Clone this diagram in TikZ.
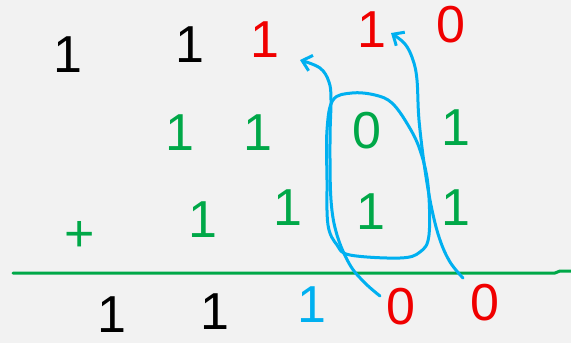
\documentclass[tikz,border=0pt]{standalone}
\usepackage{fontspec}
\setmainfont{Liberation Sans}
\usetikzlibrary{arrows.meta}
\definecolor{bg}{RGB}{242,242,242}
\definecolor{pgreen}{RGB}{0,168,72}
\definecolor{pblue}{RGB}{0,176,240}
\definecolor{pred}{RGB}{240,0,0}
\tikzset{
  dig/.style={inner sep=0pt, font=\fontsize{52}{52}\selectfont},
  blk/.style={dig, text=black},
  grn/.style={dig, text=pgreen},
  rd/.style={dig, text=pred},
  blu/.style={dig, text=pblue},
  pen/.style={line width=3pt, line cap=round, line join=round},
  bluepen/.style={pen, draw=pblue},
  tip/.style={-{Straight Barb[length=9pt,width=16pt,line width=3pt]}}
}
\begin{document}
\begin{tikzpicture}[x=1pt,y=-1pt]
\fill[bg] (0,0) rectangle (571,343);
\useasboundingbox (0,0) rectangle (571,343);
% row 1
\node[blk] (a1) at (68,55) {1};
\node[blk] (a2) at (190,45) {1};
\node[rd]  (a3) at (265,40) {1};
\node[rd]  (a4) at (372,30) {1};
\node[rd]  (a5) at (451,25) {0};
% row 2
\node[grn] (b2) at (180,133) {1};
\node[grn] (b3) at (258,133) {1};
\node[grn] (b4) at (367,131) {0};
\node[grn] (b5) at (456,128) {1};
% row 3
\node[grn] (c1) at (80,236) {+};
\node[grn] (c2) at (203,220) {1};
\node[grn] (c3) at (288,208) {1};
\node[grn] (c4) at (371,212) {1};
\node[grn] (c5) at (456,208) {1};
% sum line
\coordinate (l0) at (13,273);
\coordinate (l1) at (555,273);
\coordinate (l2) at (560,271);
\coordinate (l3) at (571,271);
\draw[pen, draw=pgreen] (l0) -- (l1) -- (l2) -- (l3);
% result
\node[blk] (r1) at (112,315) {1};
\node[blk] (r2) at (215,312) {1};
\node[blu] (r3) at (312,305) {1};
\node[rd]  (r4) at (401,307) {0};
\node[rd]  (r5) at (485,303) {0};
% loop around column
\draw[bluepen] plot[smooth cycle, tension=0.6] coordinates {(333,100) (352,93) (375,95) (392,103) (408,125) (420,150) (428,185) (429,235) (420,252) (400,258) (350,255) (337,245) (328,225) (327,180) (327,130)};
% carry arrows
\coordinate (s1) at (380,296);
\coordinate (s2) at (463,278);
\draw[bluepen, tip] plot[smooth, tension=0.6] coordinates {(s1) (365,283) (350,265) (337,235) (331,200) (330,140) (331,100) (329,82) (320,68) (300,60)};
\draw[bluepen, tip] plot[smooth, tension=0.6] coordinates {(s2) (450,262) (440,240) (432,210) (425,170) (419,120) (417,80) (413,60) (405,44) (391,33)};
\end{tikzpicture}
\end{document}
